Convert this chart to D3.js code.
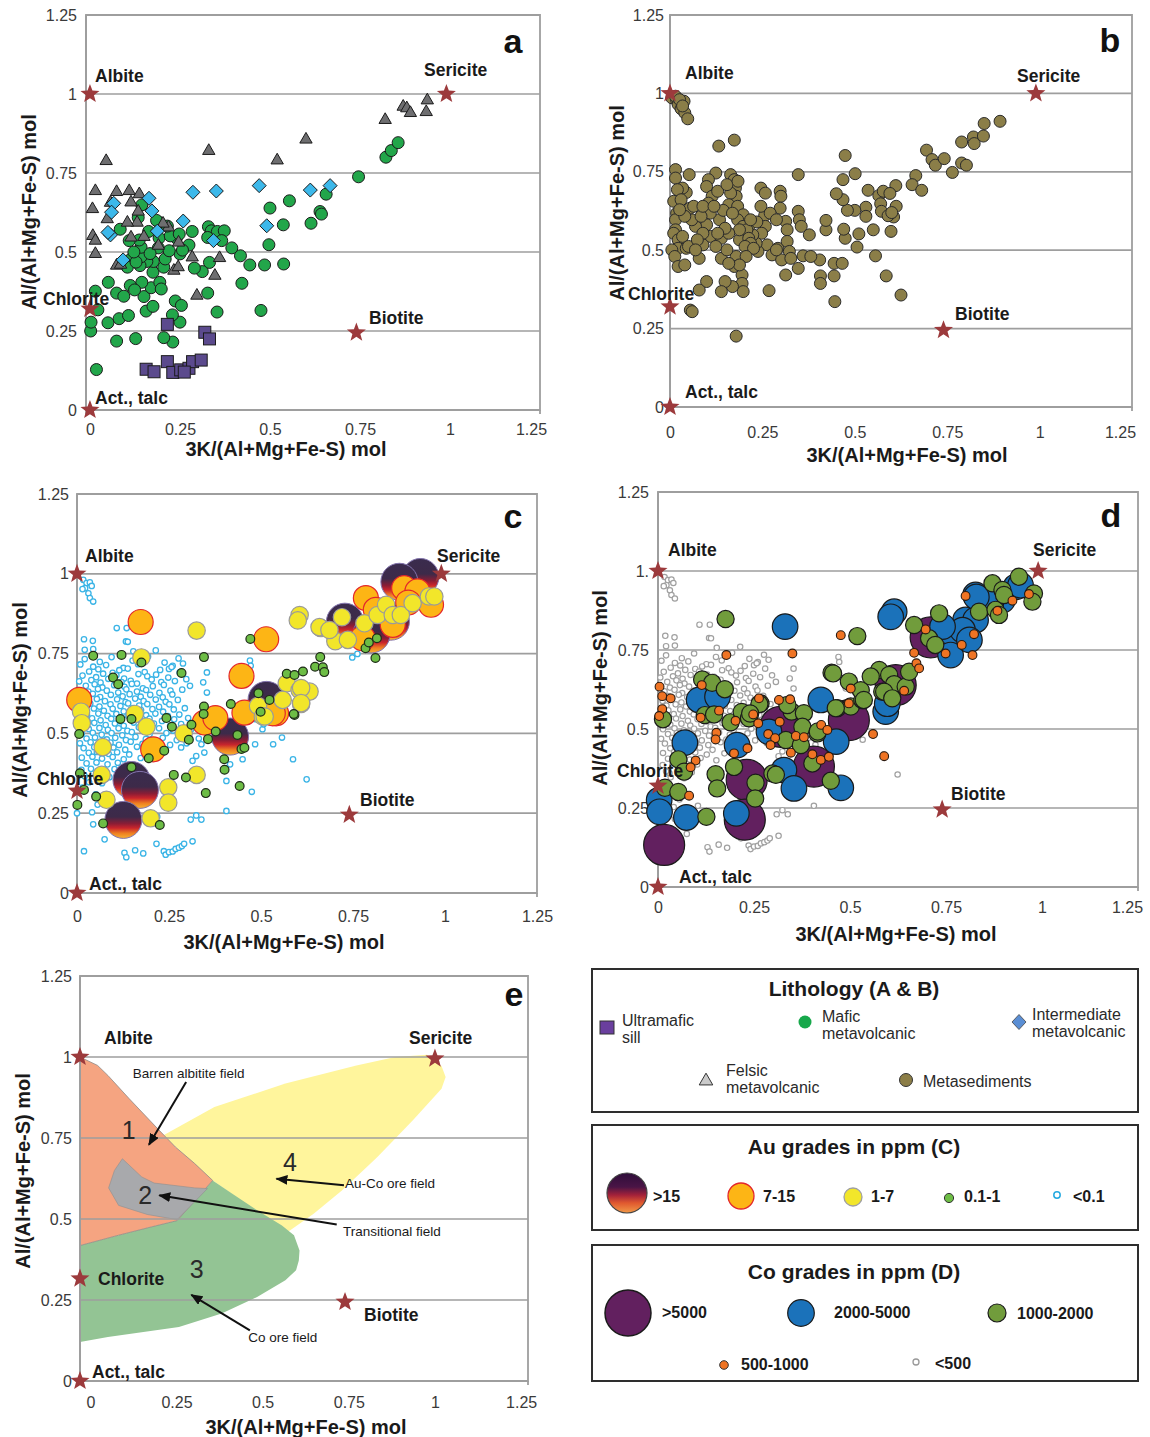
<!DOCTYPE html>
<html>
<head>
<meta charset="utf-8">
<script src="https://cdn.jsdelivr.net/npm/d3@7"></script>
<style>
  body { margin: 0; background: #fff; }
  svg { display: block; }
</style>
</head>
<body>
<svg id="fig" width="1150" height="1437"></svg>
<script>
// ---------------------------------------------------------------------------
// Data: 3K/(Al+Mg+Fe-S) vs Al/(Al+Mg+Fe-S) molar ratios
// ---------------------------------------------------------------------------
const xTicks = [0, 0.25, 0.5, 0.75, 1, 1.25];
const yTicks = [0, 0.25, 0.5, 0.75, 1, 1.25];
const xTickLabels = ["0", "0.25", "0.5", "0.75", "1", "1.25"];
const yTickLabels = ["0", "0.25", "0.5", "0.75", "1", "1.25"];
const yTickLabelsD = ["0", "0.25", "0.5", "0.75", "1.", "1.25"];

const xTitle = "3K/(Al+Mg+Fe-S) mol";
const yTitle = "Al/(Al+Mg+Fe-S) mol";

// mineral end-members
const endMembers = [
  { name: "Albite", x: 0, y: 1 },
  { name: "Sericite", x: 0.99, y: 1 },
  { name: "Chlorite", x: 0, y: 0.32 },
  { name: "Biotite", x: 0.74, y: 0.245 },
  { name: "Act., talc", x: 0, y: 0 }
];
const endMembersE = [
  { name: "Albite", x: -0.03, y: 1 },
  { name: "Sericite", x: 1.0, y: 0.995 },
  { name: "Chlorite", x: -0.03, y: 0.316 },
  { name: "Biotite", x: 0.739, y: 0.244 },
  { name: "Act., talc", x: -0.03, y: 0 }
];

// (a) lithology
const mafic = [
  [0.746,0.738],[0.822,0.80],[0.837,0.821],[0.856,0.846],[0.656,0.683],[0.639,0.628],[0.643,0.62],[0.614,0.591],
  [0.554,0.662],[0.537,0.586],[0.5,0.639],[0.497,0.523],[0.485,0.459],[0.538,0.462],[0.475,0.315],[0.444,0.459],
  [0.418,0.488],[0.394,0.513],[0.422,0.401],[0.329,0.58],[0.337,0.567],[0.354,0.565],[0.373,0.567],[0.366,0.536],
  [0.327,0.546],[0.332,0.467],[0.312,0.438],[0.29,0.449],[0.284,0.565],[0.275,0.522],[0.25,0.494],[0.24,0.544],
  [0.327,0.37],[0.353,0.31],[0.237,0.345],[0.254,0.331],[0.25,0.278],[0.229,0.301],[0.23,0.215],[0.205,0.229],
  [0.002,0.25],[0.003,0.278],[0.018,0.128],[0.022,0.317],[0.015,0.376],[0.051,0.404],[0.05,0.276],[0.074,0.37],
  [0.094,0.36],[0.081,0.289],[0.107,0.299],[0.074,0.218],[0.127,0.226],[0.15,0.359],[0.156,0.313],[0.175,0.328],
  [0.17,0.387],[0.144,0.404],[0.112,0.394],[0.124,0.38],[0.194,0.404],[0.198,0.383],[0.175,0.436],[0.176,0.47],
  [0.205,0.452],[0.209,0.478],[0.192,0.544],[0.19,0.513],[0.158,0.47],[0.139,0.457],[0.142,0.485],[0.142,0.515],
  [0.137,0.538],[0.109,0.536],[0.084,0.572],[0.114,0.478],[0.104,0.452],[0.163,0.565],[0.192,0.593],[0.223,0.551],
  [0.22,0.504],[0.248,0.557],[0.257,0.506],[0.144,0.649],[0.134,0.609],[0.128,0.468],[0.167,0.495],[0.215,0.582],
  [0.185,0.6],[0.122,0.5]
];
const felsic = [
  [0.045,0.788],[0.33,0.82],[0.52,0.79],[0.6,0.856],[0.82,0.918],[0.87,0.96],[0.88,0.955],[0.89,0.94],[0.937,0.98],
  [0.934,0.943],[0.015,0.693],[0.007,0.636],[0.048,0.604],[0.074,0.69],[0.109,0.693],[0.137,0.683],[0.114,0.657],
  [0.134,0.628],[0.131,0.593],[0.104,0.593],[0.057,0.656],[0.008,0.551],[0.015,0.536],[0.015,0.494],[0.114,0.546],
  [0.15,0.548],[0.19,0.52],[0.218,0.578],[0.203,0.59],[0.246,0.53],[0.284,0.483],[0.074,0.457],[0.233,0.441],
  [0.245,0.452],[0.36,0.481],[0.347,0.425],[0.297,0.362],[0.085,0.46]
];
const intermediate = [
  [0.066,0.654],[0.06,0.626],[0.057,0.554],[0.05,0.562],[0.092,0.475],[0.164,0.67],[0.172,0.63],[0.187,0.566],
  [0.259,0.598],[0.286,0.689],[0.351,0.693],[0.343,0.536],[0.47,0.71],[0.491,0.583],[0.612,0.696],[0.667,0.71]
];
const ultramafic = [
  [0.215,0.271],[0.319,0.246],[0.332,0.225],[0.156,0.129],[0.178,0.121],[0.215,0.153],[0.23,0.119],[0.252,0.127],
  [0.275,0.132],[0.285,0.153],[0.309,0.158],[0.262,0.12]
];

// (b) metasediments
const metasediments = [
  [0.005,0.986],[0.018,0.979],[0.038,0.975],[0.022,0.965],[0.03,0.951],[0.04,0.938],[0.048,0.919],[0.015,0.991],[0.026,0.98],[0.034,0.96],
  [0.132,0.832],[0.174,0.851],[0.474,0.802],[0.501,0.744],[0.694,0.819],[0.709,0.789],[0.718,0.771],[0.742,0.792],[0.764,0.748],[0.789,0.778],
  [0.802,0.771],[0.789,0.845],[0.821,0.861],[0.823,0.84],[0.848,0.864],[0.85,0.904],[0.893,0.911],[0.665,0.738],[0.655,0.709],[0.681,0.691],
  [0.611,0.706],[0.612,0.64],[0.605,0.606],[0.598,0.56],[0.585,0.418],[0.625,0.357],[0.556,0.482],[0.55,0.565],[0.536,0.691],[0.53,0.637],
  [0.53,0.608],[0.511,0.552],[0.506,0.51],[0.5,0.627],[0.48,0.627],[0.474,0.538],[0.47,0.567],[0.468,0.661],[0.468,0.725],[0.45,0.68],
  [0.444,0.458],[0.444,0.418],[0.446,0.336],[0.466,0.458],[0.422,0.565],[0.422,0.595],[0.405,0.469],[0.407,0.418],[0.407,0.394],[0.565,0.674],
  [0.57,0.648],[0.572,0.624],[0.577,0.688],[0.595,0.681],[0.59,0.61],[0.6,0.62],
  [0.246,0.698],[0.258,0.682],[0.298,0.688],[0.3,0.672],[0.256,0.61],[0.246,0.64],[0.298,0.634],[0.271,0.618],[0.258,0.576],[0.248,0.554],
  [0.263,0.517],[0.276,0.485],[0.292,0.506],[0.313,0.592],[0.317,0.565],[0.317,0.528],[0.323,0.496],[0.347,0.624],[0.35,0.597],[0.355,0.576],
  [0.377,0.549],[0.36,0.482],[0.347,0.442],[0.313,0.421],[0.302,0.469],[0.327,0.474],[0.268,0.371],[0.288,0.597],[0.288,0.501],[0.238,0.496],
  [0.233,0.522],[0.224,0.549],[0.213,0.576],[0.235,0.59],[0.381,0.48],[0.347,0.741],
  [0.164,0.741],[0.174,0.725],[0.177,0.698],[0.179,0.672],[0.164,0.682],[0.159,0.645],[0.183,0.64],[0.198,0.613],[0.183,0.597],[0.198,0.576],
  [0.208,0.565],[0.188,0.533],[0.213,0.506],[0.179,0.48],[0.174,0.448],[0.195,0.421],[0.195,0.394],[0.198,0.368],[0.169,0.384],[0.179,0.226],
  [0.149,0.4],[0.139,0.368],[0.139,0.474],[0.139,0.538],[0.134,0.597],[0.144,0.627],[0.124,0.746],[0.104,0.725],[0.099,0.703],[0.114,0.672],
  [0.104,0.65],[0.109,0.618],[0.099,0.581],[0.109,0.544],[0.089,0.517],[0.099,0.4],[0.079,0.373],[0.079,0.474],[0.069,0.576],[0.059,0.597],
  [0.054,0.634],[0.064,0.64],[0.044,0.684],[0.034,0.698],[0.052,0.741],[0.015,0.757],[0.015,0.73],[0.02,0.693],[0.01,0.656],[0.018,0.618],
  [0.015,0.597],[0.015,0.565],[0.01,0.554],[0.022,0.533],[0.022,0.506],[0.005,0.501],[0.013,0.48],[0.022,0.448],[0.04,0.453],[0.044,0.506],
  [0.034,0.544],[0.05,0.512],[0.04,0.608],[0.03,0.661],[0.055,0.309],[0.06,0.304],[0.026,0.629],
  [0.213,0.538],[0.218,0.522],[0.188,0.565],[0.203,0.512],[0.159,0.554],[0.154,0.501],[0.149,0.57],[0.129,0.554],[0.124,0.512],[0.089,0.554],
  [0.074,0.533],[0.069,0.501],[0.084,0.608],[0.089,0.64],[0.119,0.64],[0.129,0.688],[0.154,0.709],[0.184,0.72],[0.169,0.618],[0.218,0.597],
  [0.226,0.506],[0.206,0.48],[0.188,0.453],[0.159,0.458]
];

// samples below the lowest Au / Co classes (shared by c and d)
const lowGrade = [
  [0.017,0.981],[0.026,0.971],[0.035,0.973],[0.022,0.955],[0.031,0.939],[0.035,0.924],[0.044,0.913],[0.015,0.952],[0.04,0.962],
  [0.108,0.83],[0.135,0.83],[0.133,0.788],[0.019,0.795],[0.043,0.79],[0.153,0.757],[0.214,0.76],[0.138,0.787],[0.021,0.762],
  [0.044,0.764],[0.47,0.728],[0.472,0.712],[0.748,0.738],[0.762,0.749],
  [0.26,0.712],[0.25,0.702],[0.297,0.67],[0.307,0.649],[0.343,0.66],[0.353,0.691],[0.353,0.628],[0.489,0.628],[0.484,0.545],
  [0.504,0.513],[0.507,0.529],[0.533,0.466],[0.557,0.487],[0.484,0.466],[0.587,0.419],[0.624,0.356],[0.45,0.419],[0.416,0.403],
  [0.406,0.351],[0.475,0.317],[0.406,0.257],[0.324,0.429],[0.346,0.44],[0.314,0.414],[0.338,0.466],[0.36,0.51],[0.39,0.47],[0.41,0.45],
  [0.041,0.253],[0.044,0.215],[0.051,0.309],[0.056,0.277],[0.104,0.257],[0.218,0.239],[0.324,0.243],[0.338,0.23],[0.309,0.23],
  [0.0,0.25],[0.015,0.33],[0.03,0.36],
  [0.019,0.131],[0.075,0.168],[0.129,0.126],[0.134,0.112],[0.158,0.134],[0.18,0.124],[0.216,0.154],[0.236,0.131],[0.241,0.12],
  [0.25,0.128],[0.26,0.13],[0.268,0.138],[0.277,0.142],[0.285,0.147],[0.291,0.154],[0.314,0.162],
  [0.021,0.733],[0.062,0.724],[0.094,0.739],[0.151,0.728],[0.193,0.741],[0.238,0.722],[0.276,0.735],
  [0.009,0.716],[0.044,0.709],[0.079,0.714],[0.126,0.705],[0.166,0.717],[0.257,0.708],[0.288,0.719],
  [0.033,0.694],[0.058,0.701],[0.097,0.69],[0.115,0.698],[0.138,0.703],[0.184,0.692],[0.226,0.699],[0.279,0.691],
  [0.015,0.681],[0.052,0.676],[0.071,0.687],[0.107,0.682],[0.128,0.672],[0.167,0.686],[0.191,0.679],[0.215,0.684],[0.248,0.675],
  [0.006,0.663],[0.039,0.667],[0.064,0.659],[0.085,0.671],[0.121,0.661],[0.146,0.665],[0.163,0.656],[0.203,0.669],[0.229,0.661],[0.266,0.664],
  [0.024,0.649],[0.048,0.654],[0.069,0.644],[0.101,0.651],[0.129,0.646],[0.149,0.655],[0.179,0.641],[0.206,0.648],[0.236,0.652],
  [0.004,0.636],[0.031,0.631],[0.057,0.639],[0.081,0.634],[0.112,0.628],[0.134,0.638],[0.163,0.631],[0.188,0.636],[0.224,0.627],[0.254,0.634],[0.286,0.637],
  [0.017,0.619],[0.043,0.624],[0.063,0.614],[0.092,0.621],[0.124,0.616],[0.143,0.623],[0.173,0.615],[0.199,0.621],[0.233,0.613],[0.259,0.622],
  [0.028,0.604],[0.054,0.608],[0.076,0.601],[0.109,0.607],[0.132,0.598],[0.158,0.609],[0.181,0.601],[0.214,0.606],[0.241,0.599],[0.274,0.605],
  [0.012,0.589],[0.036,0.593],[0.061,0.584],[0.091,0.591],[0.118,0.586],[0.139,0.594],[0.169,0.587],[0.191,0.592],[0.223,0.583],[0.251,0.591],
  [0.022,0.574],[0.046,0.578],[0.073,0.571],[0.097,0.577],[0.127,0.569],[0.153,0.579],[0.174,0.573],[0.205,0.576],[0.234,0.568],[0.263,0.575],[0.293,0.579],
  [0.027,0.559],[0.058,0.562],[0.083,0.555],[0.107,0.561],[0.138,0.556],[0.159,0.564],[0.188,0.557],[0.213,0.562],[0.247,0.554],[0.278,0.559],
  [0.009,0.544],[0.041,0.547],[0.064,0.541],[0.093,0.546],[0.117,0.538],[0.147,0.549],[0.172,0.542],[0.197,0.546],[0.231,0.539],[0.264,0.544],[0.302,0.548],
  [0.023,0.529],[0.047,0.533],[0.078,0.526],[0.103,0.531],[0.127,0.524],[0.154,0.534],[0.183,0.527],[0.209,0.531],[0.253,0.524],[0.283,0.529],
  [0.032,0.514],[0.061,0.517],[0.084,0.511],[0.113,0.516],[0.137,0.508],[0.168,0.519],[0.189,0.512],[0.223,0.516],[0.261,0.509],[0.311,0.514],
  [0.013,0.499],[0.043,0.502],[0.067,0.496],[0.094,0.501],[0.123,0.494],[0.149,0.504],[0.197,0.497],[0.243,0.501],[0.291,0.494],
  [0.026,0.484],[0.049,0.487],[0.081,0.481],[0.104,0.486],[0.133,0.479],[0.159,0.489],[0.187,0.482],[0.233,0.486],[0.271,0.479],[0.331,0.484],
  [0.008,0.469],[0.037,0.472],[0.059,0.466],[0.091,0.471],[0.114,0.464],[0.146,0.474],[0.178,0.467],[0.207,0.471],[0.253,0.464],[0.298,0.469],
  [0.018,0.454],[0.047,0.457],[0.072,0.451],[0.099,0.456],[0.131,0.449],[0.163,0.458],[0.197,0.452],[0.283,0.456],
  [0.032,0.439],[0.054,0.442],[0.086,0.436],[0.109,0.441],[0.142,0.434],[0.193,0.438],[0.237,0.442],
  [0.013,0.424],[0.042,0.427],[0.068,0.421],[0.097,0.426],[0.127,0.419],[0.173,0.423],
  [0.026,0.406],[0.053,0.409],[0.083,0.403],[0.111,0.408],[0.152,0.401],
  [0.012,0.386],[0.038,0.389],[0.072,0.383],[0.102,0.388],
  [0.021,0.366],[0.052,0.369],[0.088,0.363],
  [0.033,0.347],[0.068,0.344]
];

// (c) Au grade classes, ppm
const auOver15 = [
  [0.933,0.99],[0.876,0.975],[0.728,0.85],[0.806,0.822],[0.853,0.85],[0.8,0.81],
  [0.515,0.605],[0.416,0.49],[0.148,0.354],[0.171,0.323],[0.126,0.229]
];
const au7to15 = [
  [0.173,0.849],[0.514,0.795],[0.447,0.68],[0.006,0.605],[0.347,0.534],[0.376,0.548],[0.207,0.45],[0.455,0.565],
  [0.541,0.563],[0.785,0.924],[0.889,0.955],[0.925,0.945],[0.962,0.903],[0.812,0.887],[0.776,0.798],[0.858,0.84],
  [0.532,0.563],[0.9,0.91]
];
const au1to7 = [
  [0.325,0.822],[0.175,0.738],[0.011,0.568],[0.013,0.532],[0.157,0.561],[0.189,0.521],[0.07,0.457],[0.29,0.5],
  [0.067,0.37],[0.08,0.292],[0.248,0.331],[0.248,0.283],[0.325,0.37],[0.2,0.234],[0.492,0.586],[0.505,0.553],
  [0.57,0.657],[0.605,0.636],[0.559,0.605],[0.609,0.592],[0.632,0.631],[0.663,0.83],[0.605,0.871],[0.6,0.854],
  [0.659,0.833],[0.72,0.864],[0.702,0.789],[0.736,0.793],[0.781,0.845],[0.817,0.871],[0.84,0.903],[0.858,0.871],
  [0.88,0.871],[0.912,0.908],[0.956,0.929],[0.971,0.929],[0.686,0.824],[0.609,0.642],[0.51,0.553],[0.609,0.595]
];
const au01to1 = [
  [0.044,0.743],[0.121,0.746],[0.175,0.722],[0.345,0.739],[0.471,0.796],[0.098,0.675],[0.112,0.654],[0.284,0.689],
  [0.118,0.545],[0.148,0.545],[0.243,0.548],[0.258,0.521],[0.311,0.527],[0.304,0.48],[0.345,0.584],[0.344,0.561],
  [0.377,0.506],[0.356,0.482],[0.418,0.592],[0.493,0.626],[0.523,0.605],[0.499,0.568],[0.436,0.495],[0.447,0.451],
  [0.455,0.455],[0.4,0.419],[0.401,0.386],[0.442,0.335],[0.35,0.313],[0.237,0.446],[0.195,0.422],[0.148,0.394],
  [0.263,0.37],[0.296,0.362],[0.008,0.375],[0.019,0.323],[0.052,0.302],[0.001,0.276],[0.071,0.218],[0.225,0.213],
  [0.006,0.498],[0.57,0.687],[0.591,0.683],[0.614,0.694],[0.591,0.558],[0.661,0.739],[0.647,0.709],[0.668,0.707],
  [0.672,0.692],[0.784,0.767],[0.793,0.785],[0.815,0.798],[0.811,0.736],[0.589,0.561]
];

// (d) Co grade classes, ppm
const coOver5000 = [
  [0.016,0.133],[0.231,0.339],[0.226,0.213],[0.319,0.507],[0.406,0.381],[0.497,0.528],[0.619,0.639],[0.71,0.79]
];
const co2000to5000 = [
  [0.331,0.824],[0.615,0.871],[0.606,0.855],[0.107,0.592],[0.155,0.602],[0.07,0.457],[0.206,0.449],[0.424,0.592],
  [0.464,0.46],[0.328,0.37],[0.354,0.312],[0.476,0.314],[0.289,0.491],[0.593,0.555],[0.003,0.275],[0.004,0.238],
  [0.074,0.22],[0.204,0.233],[0.827,0.924],[0.858,0.903],[0.897,0.908],[0.932,0.95],[0.801,0.845],[0.827,0.845],
  [0.767,0.803],[0.793,0.813],[0.741,0.824],[0.762,0.734],[0.811,0.782],[0.597,0.58],[0.944,0.955],[0.868,0.907],
  [0.829,0.918]
];
const co1000to2000 = [
  [0.176,0.848],[0.519,0.794],[0.452,0.678],[0.115,0.657],[0.141,0.646],[0.174,0.626],[0.013,0.531],[0.122,0.544],
  [0.146,0.546],[0.189,0.521],[0.218,0.554],[0.237,0.534],[0.267,0.581],[0.348,0.555],[0.38,0.55],[0.376,0.507],
  [0.333,0.465],[0.372,0.449],[0.415,0.486],[0.402,0.391],[0.45,0.336],[0.467,0.566],[0.502,0.571],[0.532,0.592],
  [0.576,0.687],[0.602,0.671],[0.615,0.642],[0.584,0.618],[0.053,0.404],[0.068,0.365],[0.018,0.314],[0.053,0.301],
  [0.15,0.357],[0.154,0.312],[0.198,0.38],[0.254,0.33],[0.253,0.28],[0.298,0.359],[0.126,0.222],[0.667,0.829],
  [0.732,0.866],[0.706,0.787],[0.722,0.766],[0.836,0.871],[0.879,0.877],[0.888,0.861],[0.871,0.961],[0.897,0.94],
  [0.901,0.924],[0.94,0.982],[0.979,0.929],[0.975,0.903],[0.456,0.676],[0.497,0.65],[0.528,0.623],[0.536,0.592],
  [0.554,0.666],[0.589,0.618],[0.61,0.597],[0.645,0.634],[0.654,0.681],[0.463,0.566],[0.264,0.579],[0.337,0.576],
  [0.416,0.492],[0.307,0.355],[0.24,0.549]
];
const co500to1000 = [
  [0.476,0.797],[0.35,0.739],[0.178,0.734],[0.004,0.634],[0.011,0.604],[0.033,0.597],[0.011,0.563],[0.003,0.541],
  [0.114,0.639],[0.159,0.558],[0.111,0.536],[0.202,0.526],[0.152,0.488],[0.15,0.467],[0.248,0.546],[0.263,0.597],
  [0.261,0.518],[0.315,0.592],[0.344,0.594],[0.317,0.523],[0.287,0.484],[0.305,0.471],[0.293,0.449],[0.359,0.478],
  [0.38,0.474],[0.425,0.513],[0.441,0.497],[0.346,0.425],[0.402,0.42],[0.424,0.402],[0.445,0.412],[0.233,0.439],
  [0.198,0.423],[0.098,0.4],[0.085,0.379],[0.081,0.289],[0.502,0.628],[0.497,0.581],[0.56,0.484],[0.589,0.414],
  [0.641,0.621],[0.697,0.815],[0.667,0.741],[0.673,0.708],[0.68,0.692],[0.801,0.921],[0.923,0.906],[0.966,0.927],
  [0.884,0.874],[0.823,0.8],[0.791,0.766],[0.749,0.739],[0.819,0.734]
];

// (e) alteration fields
const fieldAuCo = [[0.211,0.758],[0.36,0.846],[0.566,0.918],[0.772,0.974],[0.885,1.0],[0.977,1.007],[1.019,0.972],
  [1.031,0.938],[1.019,0.902],[0.936,0.805],[0.833,0.691],[0.73,0.588],[0.648,0.516],[0.576,0.462],[0.46,0.54],[0.355,0.619]];
const fieldCo = [[0.355,0.619],[0.412,0.578],[0.484,0.527],[0.556,0.48],[0.591,0.45],[0.607,0.403],[0.605,0.372],
  [0.597,0.342],[0.566,0.311],[0.484,0.259],[0.381,0.208],[0.257,0.167],[0.154,0.151],[0.051,0.136],[-0.03,0.12],
  [-0.03,0.418],[0.082,0.45],[0.175,0.475],[0.252,0.495]];
const fieldBarren = [[-0.03,1.0],[0.021,0.974],[0.051,0.943],[0.113,0.871],[0.195,0.779],[0.247,0.722],[0.303,0.671],
  [0.355,0.619],[0.252,0.495],[0.175,0.475],[0.082,0.45],[-0.03,0.418]];
const fieldTransitional = [[0.093,0.686],[0.07,0.65],[0.053,0.596],[0.082,0.542],[0.165,0.514],[0.252,0.498],
  [0.34,0.594],[0.303,0.596],[0.185,0.611],[0.149,0.63]];
const fieldNumbers = [{t:"1",x:0.111,y:0.774},{t:"2",x:0.159,y:0.573},{t:"3",x:0.309,y:0.347},{t:"4",x:0.579,y:0.676}];
const fieldNotes = [
  {t:"Barren albitite field", lx:0.123, ly:0.949, from:[0.278,0.923], to:[0.17,0.729]},
  {t:"Au-Co ore field", lx:0.739, ly:0.611, from:[0.736,0.604], to:[0.54,0.624]},
  {t:"Transitional field", lx:0.733, ly:0.46, from:[0.715,0.483], to:[0.2,0.573]},
  {t:"Co ore field", lx:0.458, ly:0.133, from:[0.463,0.156], to:[0.293,0.266]}
];

// ---------------------------------------------------------------------------
// Drawing
// ---------------------------------------------------------------------------
const svg = d3.select("#fig");
const FONT = "'Liberation Sans', Arial, Helvetica, sans-serif";
const GRID = "#9e9e9e";
const STAR = "#9c3a3c";

const defs = svg.append("defs");
const grad = defs.append("linearGradient").attr("id", "auGrad")
  .attr("x1", 0).attr("y1", 0).attr("x2", 0).attr("y2", 1);
[[0, "#3a2c4e"], [0.42, "#3d2a49"], [0.6, "#8a1d35"], [0.72, "#c9252c"], [0.86, "#ee7f22"], [1, "#f8b331"]]
  .forEach(([o, c]) => grad.append("stop").attr("offset", o).attr("stop-color", c));
const gradL = defs.append("linearGradient").attr("id", "auGradLegend")
  .attr("x1", 0).attr("y1", 0).attr("x2", 0).attr("y2", 1);
[[0, "#2e0d3a"], [0.35, "#4a1546"], [0.55, "#a3213a"], [0.75, "#e0592f"], [1, "#f19a48"]]
  .forEach(([o, c]) => gradL.append("stop").attr("offset", o).attr("stop-color", c));
defs.append("marker").attr("id", "arrowHead").attr("viewBox", "0 0 12 10")
  .attr("refX", 11).attr("refY", 5).attr("markerWidth", 12).attr("markerHeight", 10)
  .attr("markerUnits", "userSpaceOnUse").attr("orient", "auto")
  .append("path").attr("d", "M0,0L12,5L0,10Z").attr("fill", "#111");

function starPath(R, r) {
  const p = [];
  for (let i = 0; i < 10; i++) {
    const a = -Math.PI / 2 + i * Math.PI / 5, rad = i % 2 ? r : R;
    p.push([rad * Math.cos(a), rad * Math.sin(a)]);
  }
  return "M" + p.map(q => q[0].toFixed(2) + "," + q[1].toFixed(2)).join("L") + "Z";
}

const panels = {
  a: { left: 86, right: 540, top: 15, bottom: 410, xMin: -0.011, xMax: 1.25, xLab: 20, yPad: 9, lastDx: -9,
       xT: [286, 449], yT: [29, 212], letter: [513, 41], yLabels: yTickLabels, stars: endMembers,
       names: { "Albite": [95, 76], "Sericite": [424, 70], "Chlorite": [43, 299], "Biotite": [369, 318], "Act., talc": [95, 398] } },
  b: { left: 670, right: 1132, top: 15, bottom: 407, xMin: 0, xMax: 1.25, xLab: 26, yPad: 6, lastDx: -12,
       xT: [907, 455], yT: [617, 203], letter: [1110, 40], yLabels: yTickLabels, stars: endMembers,
       names: { "Albite": [685, 73], "Sericite": [1017, 76], "Chlorite": [628, 294], "Biotite": [955, 314], "Act., talc": [685, 392] } },
  c: { left: 77, right: 537, top: 494, bottom: 893, xMin: 0, xMax: 1.25, xLab: 24, yPad: 8, lastDx: 0,
       xT: [284, 942], yT: [20, 700], letter: [513, 516], yLabels: yTickLabels, stars: endMembers,
       names: { "Albite": [85, 556], "Sericite": [437, 556], "Chlorite": [37, 779], "Biotite": [360, 800], "Act., talc": [89, 884] } },
  d: { left: 658, right: 1138, top: 492, bottom: 887, xMin: 0, xMax: 1.25, xLab: 21, yPad: 9, lastDx: -11,
       xT: [896, 934], yT: [600, 688], letter: [1111, 515], yLabels: yTickLabelsD, stars: endMembers,
       names: { "Albite": [668, 550], "Sericite": [1033, 550], "Chlorite": [617, 771], "Biotite": [951, 794], "Act., talc": [679, 877] } },
  e: { left: 80, right: 528, top: 976, bottom: 1381, xMin: -0.03, xMax: 1.27, xLab: 22, yPad: 8, lastDx: 0,
       xT: [306, 1427], yT: [23, 1171], letter: [514, 994], yLabels: yTickLabels, stars: endMembersE,
       names: { "Albite": [104, 1038], "Sericite": [409, 1038], "Chlorite": [98, 1279], "Biotite": [364, 1315], "Act., talc": [92, 1372] } }
};

function makePanel(key) {
  const L = panels[key];
  const x = d3.scaleLinear().domain([L.xMin, L.xMax]).range([L.left, L.right]);
  const y = d3.scaleLinear().domain([0, 1.25]).range([L.bottom, L.top]);
  const g = svg.append("g").attr("class", "panel-" + key);
  const under = g.append("g"), back = g.append("g"), marks = g.append("g"), front = g.append("g");

  // horizontal gridlines and frame
  back.selectAll("line.grid").data(yTicks.filter(v => v > 0 && v < 1.25)).join("line")
    .attr("x1", L.left).attr("x2", L.right).attr("y1", d => y(d)).attr("y2", d => y(d))
    .attr("stroke", GRID).attr("stroke-width", 1.7);
  back.append("path")
    .attr("d", `M${L.left},${L.top}H${L.right}V${L.bottom}H${L.left}Z`)
    .attr("fill", "none").attr("stroke", GRID).attr("stroke-width", 1.8);
  back.append("line").attr("x1", L.left).attr("x2", L.left).attr("y1", L.top).attr("y2", L.bottom + 4)
    .attr("stroke", GRID).attr("stroke-width", 1.8);
  back.append("line").attr("x1", L.right).attr("x2", L.right).attr("y1", L.bottom).attr("y2", L.bottom + 4)
    .attr("stroke", GRID).attr("stroke-width", 1.8);

  // axes (labels only)
  const ax = back.append("g").attr("transform", `translate(0,${L.bottom})`)
    .call(d3.axisBottom(x).tickValues(xTicks).tickFormat((d, i) => xTickLabels[i]).tickSize(0).tickPadding(L.xLab - 6));
  const ay = back.append("g").attr("transform", `translate(${L.left},0)`)
    .call(d3.axisLeft(y).tickValues(yTicks).tickFormat((d, i) => L.yLabels[i]).tickSize(0).tickPadding(L.yPad));
  [ax, ay].forEach(a => {
    a.select(".domain").remove();
    a.selectAll("text").attr("font-family", FONT).attr("font-size", 16).attr("fill", "#3a3a3a");
  });
  ax.selectAll(".tick text").filter(d => d === 1.25).attr("dx", L.lastDx);

  // axis titles
  front.append("text").attr("x", L.xT[0]).attr("y", L.xT[1]).attr("text-anchor", "middle")
    .attr("dominant-baseline", "central").attr("font-family", FONT).attr("font-weight", "bold")
    .attr("font-size", 20).attr("fill", "#1a1a1a").text(xTitle);
  front.append("text").attr("transform", `translate(${L.yT[0]},${L.yT[1]}) rotate(-90)`)
    .attr("text-anchor", "middle").attr("dominant-baseline", "central").attr("font-family", FONT)
    .attr("font-weight", "bold").attr("font-size", 20).attr("fill", "#1a1a1a").text(yTitle);
  // panel letter
  front.append("text").attr("x", L.letter[0]).attr("y", L.letter[1]).attr("text-anchor", "middle")
    .attr("dominant-baseline", "central").attr("font-family", FONT).attr("font-weight", "bold")
    .attr("font-size", 34).attr("fill", "#111").text(key);

  return { x, y, L, under, marks, front };
}

function finishPanel(P) {
  const { x, y, L, front } = P;
  front.selectAll("path.star").data(L.stars).join("path").attr("class", "star")
    .attr("d", starPath(10, 4.2)).attr("transform", d => `translate(${x(d.x)},${y(d.y)})`)
    .attr("fill", STAR);
  front.selectAll("text.em").data(L.stars).join("text").attr("class", "em")
    .attr("x", d => L.names[d.name][0]).attr("y", d => L.names[d.name][1])
    .attr("dominant-baseline", "central").attr("font-family", FONT).attr("font-weight", "bold")
    .attr("font-size", 17.5).attr("fill", "#1a1a1a").text(d => d.name);
}

function circles(P, data, r, fill, stroke, sw) {
  P.marks.append("g").selectAll("circle").data(data).join("circle")
    .attr("cx", d => P.x(d[0])).attr("cy", d => P.y(d[1])).attr("r", r)
    .attr("fill", fill).attr("stroke", stroke).attr("stroke-width", sw);
}

// ---- panel a ----
const pa = makePanel("a");
circles(pa, mafic, 6, "#22a64a", "#1b1b1b", 1);
pa.marks.append("g").selectAll("path").data(felsic).join("path")
  .attr("d", d3.symbol(d3.symbolTriangle, 66)).attr("transform", d => `translate(${pa.x(d[0])},${pa.y(d[1])})`)
  .attr("fill", "#6e6e70").attr("stroke", "#1b1b1b").attr("stroke-width", 1);
pa.marks.append("g").selectAll("path").data(intermediate).join("path")
  .attr("d", "M0,-7L7,0L0,7L-7,0Z").attr("transform", d => `translate(${pa.x(d[0])},${pa.y(d[1])})`)
  .attr("fill", "#3cb8ea").attr("stroke", "#1b1b1b").attr("stroke-width", 1);
pa.marks.append("g").selectAll("rect").data(ultramafic).join("rect")
  .attr("x", d => pa.x(d[0]) - 6).attr("y", d => pa.y(d[1]) - 6).attr("width", 12).attr("height", 12)
  .attr("fill", "#5b4a8d").attr("stroke", "#1b1b1b").attr("stroke-width", 1);
finishPanel(pa);

// ---- panel b ----
const pb = makePanel("b");
circles(pb, metasediments, 6, "#8b7e48", "#2a2a2a", 1);
finishPanel(pb);

// ---- panel c ----
const pc = makePanel("c");
circles(pc, lowGrade, 2.7, "#fff", "#3ab4e6", 1.3);
circles(pc, auOver15, 18.5, "url(#auGrad)", "#8374ad", 1);
circles(pc, au7to15, 12.5, "#fdb515", "#e3262b", 1.2);
circles(pc, au1to7, 8.7, "#f2e62a", "#9a9a9a", 1.2);
circles(pc, au01to1, 4.4, "#6dbd45", "#1e2b18", 1.2);
finishPanel(pc);

// ---- panel d ----
const pd = makePanel("d");
circles(pd, lowGrade, 2.7, "#fff", "#a0a0a0", 1.2);
circles(pd, coOver5000, 20.5, "#62205f", "#1a1a1a", 1.2);
circles(pd, co2000to5000, 12.8, "#1b72ba", "#1a1a1a", 1.2);
circles(pd, co1000to2000, 8.6, "#719c3c", "#1a1a1a", 1.2);
circles(pd, co500to1000, 4.4, "#ef7424", "#2a1a10", 1.1);
finishPanel(pd);

// ---- panel e ----
const pe = makePanel("e");
const fieldLine = d3.line().x(d => pe.x(d[0])).y(d => pe.y(d[1])).curve(d3.curveLinearClosed);
pe.under.append("path").attr("d", fieldLine(fieldAuCo)).attr("fill", "#fff59c");
pe.under.append("path").attr("d", fieldLine(fieldCo)).attr("fill", "#93c494");
pe.under.append("path").attr("d", fieldLine(fieldBarren)).attr("fill", "#f5a481")
  .attr("stroke", "#8f8a86").attr("stroke-width", 0.8);
pe.under.append("path").attr("d", fieldLine(fieldTransitional)).attr("fill", "#a8a9ac")
  .attr("stroke", "#8f8f8f").attr("stroke-width", 0.6);
pe.marks.selectAll("text.num").data(fieldNumbers).join("text").attr("class", "num")
  .attr("x", d => pe.x(d.x)).attr("y", d => pe.y(d.y)).attr("text-anchor", "middle")
  .attr("dominant-baseline", "central").attr("font-family", FONT).attr("font-size", 25)
  .attr("fill", "#2a2a2a").text(d => d.t);
pe.marks.selectAll("line.arrow").data(fieldNotes).join("line").attr("class", "arrow")
  .attr("x1", d => pe.x(d.from[0])).attr("y1", d => pe.y(d.from[1]))
  .attr("x2", d => pe.x(d.to[0])).attr("y2", d => pe.y(d.to[1]))
  .attr("stroke", "#111").attr("stroke-width", 2).attr("marker-end", "url(#arrowHead)");
pe.marks.selectAll("text.note").data(fieldNotes).join("text").attr("class", "note")
  .attr("x", d => pe.x(d.lx)).attr("y", d => pe.y(d.ly)).attr("dominant-baseline", "central")
  .attr("font-family", FONT).attr("font-size", 13.5).attr("fill", "#1a1a1a").text(d => d.t);
finishPanel(pe);

// ---------------------------------------------------------------------------
// Legends
// ---------------------------------------------------------------------------
const lg = svg.append("g").attr("font-family", FONT);
const boxes = [[592, 969, 546, 143], [592, 1125, 546, 105], [592, 1245, 546, 136]];
lg.selectAll("rect.box").data(boxes).join("rect").attr("class", "box")
  .attr("x", d => d[0]).attr("y", d => d[1]).attr("width", d => d[2]).attr("height", d => d[3])
  .attr("fill", "#fff").attr("stroke", "#2e2e2e").attr("stroke-width", 2);
const legendTitles = [["Lithology (A & B)", 988], ["Au grades in ppm (C)", 1146], ["Co grades in ppm (D)", 1271]];
lg.selectAll("text.title").data(legendTitles).join("text").attr("class", "title")
  .attr("x", 854).attr("y", d => d[1]).attr("text-anchor", "middle").attr("dominant-baseline", "central")
  .attr("font-weight", "bold").attr("font-size", 21).attr("fill", "#1a1a1a").text(d => d[0]);

function lText(x, y, lines, opts = {}) {
  const t = lg.append("text").attr("x", x).attr("y", y).attr("dominant-baseline", "central")
    .attr("font-size", opts.size || 16).attr("font-weight", opts.bold ? "bold" : "normal")
    .attr("fill", opts.fill || "#2a2a2a");
  lines.forEach((s, i) => t.append("tspan").attr("x", x).attr("dy", i ? 17 : 0).text(s));
}

// lithology symbols
lg.append("rect").attr("x", 600).attr("y", 1021).attr("width", 14).attr("height", 13)
  .attr("fill", "#6a3f9e").attr("stroke", "#333").attr("stroke-width", 1);
lText(622, 1020, ["Ultramafic", "sill"]);
lg.append("circle").attr("cx", 805).attr("cy", 1022).attr("r", 6.5).attr("fill", "#17a84b");
lText(822, 1016, ["Mafic", "metavolcanic"]);
lg.append("path").attr("d", "M0,-7.5L7,0L0,7.5L-7,0Z").attr("transform", "translate(1019,1022)")
  .attr("fill", "#5a8ed4").attr("stroke", "#444").attr("stroke-width", 0.8);
lText(1032, 1014, ["Intermediate", "metavolcanic"]);
lg.append("path").attr("d", d3.symbol(d3.symbolTriangle, 80)).attr("transform", "translate(706,1081)")
  .attr("fill", "#cacaca").attr("stroke", "#333").attr("stroke-width", 1);
lText(726, 1070, ["Felsic", "metavolcanic"]);
lg.append("circle").attr("cx", 906).attr("cy", 1080).attr("r", 6.5).attr("fill", "#8c7e47")
  .attr("stroke", "#333").attr("stroke-width", 1);
lText(923, 1081, ["Metasediments"]);

// Au classes
const auLegend = [
  { label: ">15", cx: 627, cy: 1193, r: 20, fill: "url(#auGradLegend)", stroke: "#444", sw: 1.2, tx: 653 },
  { label: "7-15", cx: 741, cy: 1196, r: 13, fill: "#fdb515", stroke: "#e3262b", sw: 1.3, tx: 763 },
  { label: "1-7", cx: 853, cy: 1197, r: 9, fill: "#f2e62a", stroke: "#a0a0a0", sw: 1.3, tx: 871 },
  { label: "0.1-1", cx: 949, cy: 1198, r: 4.6, fill: "#6dbd45", stroke: "#333", sw: 1, tx: 964 },
  { label: "<0.1", cx: 1057, cy: 1195, r: 3.2, fill: "#fff", stroke: "#25a9e0", sw: 1.5, tx: 1073 }
];
lg.selectAll("circle.au").data(auLegend).join("circle").attr("class", "au")
  .attr("cx", d => d.cx).attr("cy", d => d.cy).attr("r", d => d.r)
  .attr("fill", d => d.fill).attr("stroke", d => d.stroke).attr("stroke-width", d => d.sw);
auLegend.forEach(d => lText(d.tx, 1196, [d.label], { bold: true, size: 16, fill: "#1a1a1a" }));

// Co classes
const coLegend = [
  { label: ">5000", cx: 628, cy: 1313, r: 23, fill: "#62205f", stroke: "#1a1a1a", sw: 1.5, tx: 662, ty: 1312 },
  { label: "2000-5000", cx: 801, cy: 1313, r: 13.3, fill: "#1b72ba", stroke: "#1a1a1a", sw: 1.2, tx: 834, ty: 1312 },
  { label: "1000-2000", cx: 997, cy: 1313, r: 9, fill: "#719c3c", stroke: "#1a1a1a", sw: 1.2, tx: 1017, ty: 1313 },
  { label: "500-1000", cx: 724, cy: 1365, r: 4.3, fill: "#ef7424", stroke: "#333", sw: 1, tx: 741, ty: 1364 },
  { label: "<500", cx: 916, cy: 1362, r: 3, fill: "#fff", stroke: "#999", sw: 1.3, tx: 935, ty: 1363 }
];
lg.selectAll("circle.co").data(coLegend).join("circle").attr("class", "co")
  .attr("cx", d => d.cx).attr("cy", d => d.cy).attr("r", d => d.r)
  .attr("fill", d => d.fill).attr("stroke", d => d.stroke).attr("stroke-width", d => d.sw);
coLegend.forEach(d => lText(d.tx, d.ty, [d.label], { bold: true, size: 16, fill: "#1a1a1a" }));
</script>
</body>
</html>
